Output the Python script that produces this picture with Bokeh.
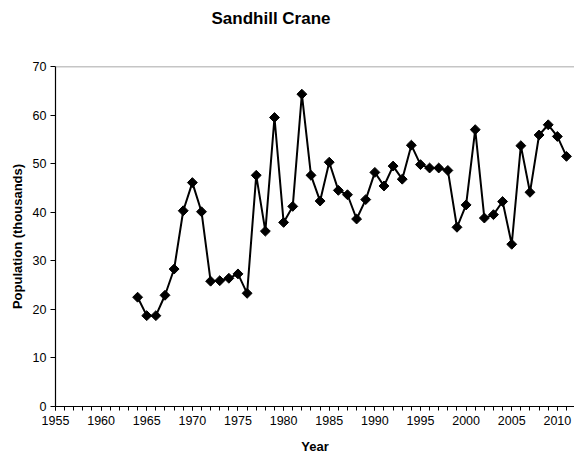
import math
from bokeh.plotting import figure
from bokeh.models import Range1d, SingleIntervalTicker, Span, ColumnDataSource, Title
from bokeh.embed import file_html
from bokeh.resources import INLINE

years = list(range(1964, 2012))
population = [22.5, 18.7, 18.7, 22.9, 28.3, 40.3, 46.1, 40.1, 25.8, 25.9,
              26.4, 27.3, 23.3, 47.6, 36.1, 59.5, 37.9, 41.2, 64.3, 47.6,
              42.3, 50.3, 44.5, 43.6, 38.6, 42.6, 48.2, 45.4, 49.5, 46.8,
              53.8, 49.8, 49.1, 49.1, 48.6, 36.9, 41.5, 57.0, 38.8, 39.5,
              42.2, 33.4, 53.7, 44.1, 55.9, 58.0, 55.6, 51.5]

title_text = "Sandhill Crane"
x_label = "Year"
y_label = "Population (thousands)"

FONT = "Liberation Sans"

p = figure(frame_width=519, frame_height=340, output_backend="svg",
           toolbar_location=None, x_range=Range1d(1955, 2011.88),
           y_range=Range1d(0, 70), min_border_left=55, min_border_right=0,
           min_border_top=66, min_border_bottom=47)
p.outline_line_color = None
p.background_fill_color = "white"
p.border_fill_color = "white"
p.grid.visible = False

src = ColumnDataSource(dict(x=years, y=population))
p.line("x", "y", source=src, line_color="black", line_width=2)
p.scatter("x", "y", source=src, marker="square", size=7, angle=math.pi / 4,
          fill_color="black", line_color="black")

# top plot-area border
p.add_layout(Span(location=70, dimension="width", line_color="#8c8c8c", line_width=1.5))

# invisible spacer between the frame and the title
p.add_layout(Title(text=" ", text_font_size="1px", standoff=31), "above")

p.title.text = title_text
p.title.text_font = FONT
p.title.text_font_size = "17px"
p.title.text_font_style = "bold"
p.title.text_color = "black"
p.title.align = "left"
p.title.offset = 156
p.title.standoff = 10

xa = p.xaxis[0]
xa.ticker = SingleIntervalTicker(interval=5, num_minor_ticks=5)
xa.major_tick_out = 4
xa.major_tick_in = 0
xa.minor_tick_out = 4
xa.minor_tick_in = 0
xa.major_label_text_font = FONT
xa.major_label_text_font_size = "12.5px"
xa.major_label_text_color = "black"
xa.major_label_standoff = 5
xa.axis_line_color = "black"
xa.axis_line_width = 1.2
xa.axis_label = x_label
xa.axis_label_text_font = FONT
xa.axis_label_text_font_size = "13px"
xa.axis_label_text_font_style = "bold"
xa.axis_label_text_color = "black"
xa.axis_label_standoff = 11

ya = p.yaxis[0]
ya.ticker = SingleIntervalTicker(interval=10, num_minor_ticks=0)
ya.major_tick_out = 5
ya.major_tick_in = 0
ya.minor_tick_line_color = None
ya.major_label_text_font = FONT
ya.major_label_text_font_size = "12.5px"
ya.major_label_text_color = "black"
ya.major_label_standoff = 4
ya.axis_line_color = "black"
ya.axis_line_width = 1.2
ya.axis_label = y_label
ya.axis_label_text_font = FONT
ya.axis_label_text_font_size = "13px"
ya.axis_label_text_font_style = "bold"
ya.axis_label_text_color = "black"
ya.axis_label_standoff = 5

open("out.html", "w").write(file_html(p, INLINE))
